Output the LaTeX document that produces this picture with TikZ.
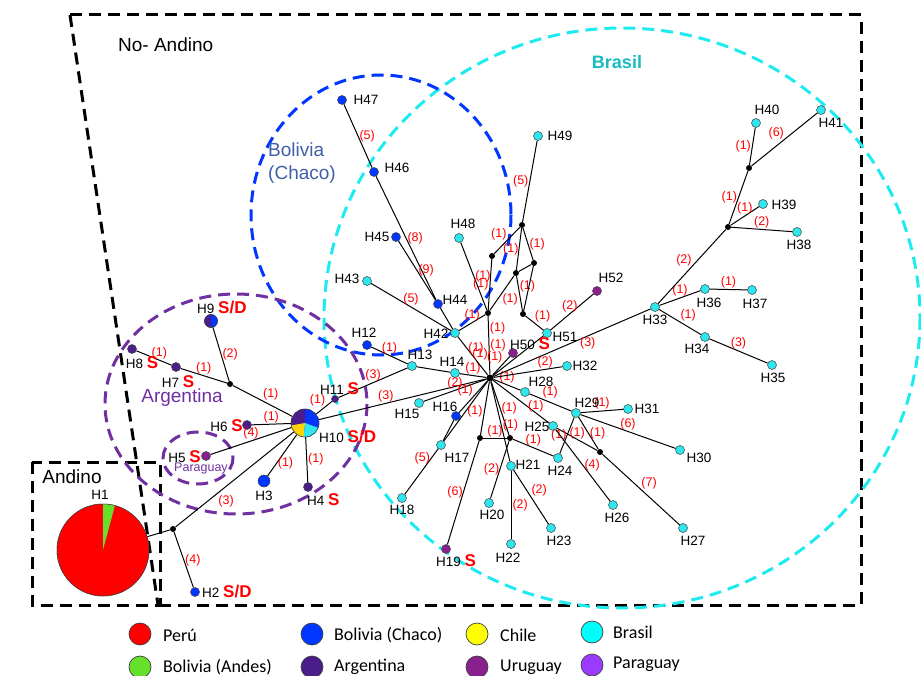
\documentclass[tikz,border=0pt]{standalone}
\usepackage{fontspec}
\setmainfont{Liberation Sans}
\newfontfamily\legendfont{Carlito}
\newcommand{\smark}[1]{{\color{red}\bfseries\fontsize{17}{17}\selectfont #1}}

\tikzset{
	hap/.style={circle,draw=black!75,line width=.5pt,minimum size=9pt,inner sep=0pt},
	med/.style={circle,fill=black,minimum size=6pt,inner sep=0pt},
	hname/.style={font=\fontsize{13.5}{13.5}\selectfont,inner sep=0pt},
	mut/.style={text=red,font=\fontsize{12.5}{12.5}\selectfont,inner sep=1pt},
	link/.style={line width=1pt},
	zone/.style={line width=3pt,dash pattern=on 12pt off 7pt},
	region/.style={font=\fontsize{19}{23}\selectfont,inner sep=0pt},
	legdot/.style={circle,draw=black!75,line width=.7pt,minimum size=22pt,inner sep=0pt},
	legtext/.style={anchor=west,font=\legendfont\fontsize{18}{18}\selectfont,inner sep=0pt},
}

\begin{document}
\begin{tikzpicture}[x=1pt,y=-1pt]
		\definecolor{peru}{HTML}{FF0000}
		\definecolor{andes}{HTML}{66E02A}
		\definecolor{chaco}{HTML}{0036FF}
		\definecolor{chile}{HTML}{FFD200}
		\definecolor{legchile}{HTML}{FFFF00}
		\definecolor{brasil}{HTML}{2EE6EE}
		\definecolor{legbrasil}{HTML}{00FFFF}
		\definecolor{argen}{HTML}{4B1D8A}
		\definecolor{urug}{HTML}{8A1F8E}
		\definecolor{parag}{HTML}{9B3BFF}
		\definecolor{argring}{HTML}{7030A0}
		\definecolor{chacotxt}{HTML}{3F5FA8}
		\definecolor{brasring}{HTML}{1EEBF0}
		\useasboundingbox (0,0) rectangle (921,676);
		
		% zonas
		\draw[zone] (70,15) -- (861,15) -- (861,605) -- (160,605);
		\draw[zone] (70,15) -- (158,605);
		\draw[zone] (32,462) rectangle (160,605);
		\draw[zone,brasring] (622,318) ellipse[x radius=298,y radius=290];
		\draw[zone,chaco] (381,215) ellipse[x radius=130,y radius=140];
		\draw[zone,argring] (236,404) ellipse[x radius=131,y radius=110];
		\draw[zone,argring] (198,458) ellipse[x radius=35,y radius=26];
		
		% textos de zonas
		\node[region,anchor=west] (tnoand) at (118,45) {No- Andino};
		\node[region] (tand) at (72,477) {Andino};
		\node[region,text=argring] (targ) at (182,398) {Argentina};
		\node[region,text=argring,font=\fontsize{12.5}{12.5}\selectfont] (tpar) at (201,468) {Paraguay};
		\node[region,text=chacotxt,align=left] (tbol) at (302,163) {Bolivia\\(Chaco)};
		\node[region,text=brasring!80!black,font=\bfseries\fontsize{18}{18}\selectfont] (tbra) at (617,62) {Brasil};
		
		% haplotipos
		\node[hap,minimum size=92pt] (h1) at (103,550) {};
		\node[hap,fill=chaco] (h2) at (195,592) {};
		\node[hap,fill=chaco,minimum size=12pt] (h3) at (264,481) {};
		\node[hap,fill=argen] (h4) at (308,487) {};
		\node[hap,fill=urug] (h5) at (206,456) {};
		\node[hap,fill=argen] (h6) at (247,425) {};
		\node[hap,fill=argen] (h7) at (176,367) {};
		\node[hap,fill=argen] (h8) at (132,349) {};
		\node[hap,minimum size=13pt] (h9) at (211,321) {};
		\node[hap,minimum size=28pt] (h10) at (305,423) {};
		\node[hap,fill=argen,minimum size=7pt] (h11) at (335,399) {};
		\node[hap,fill=chaco] (h12) at (367,345) {};
		\node[hap,fill=brasil] (h13) at (412,366) {};
		\node[hap,fill=brasil] (h14) at (455,373) {};
		\node[hap,fill=brasil] (h15) at (419,403) {};
		\node[hap,fill=chaco] (h16) at (456,416) {};
		\node[hap,fill=brasil] (h17) at (441,445) {};
		\node[hap,fill=brasil] (h18) at (402,498) {};
		\node[hap,fill=urug] (h19) at (446,549) {};
		\node[hap,fill=brasil] (h20) at (489,503) {};
		\node[hap,fill=brasil] (h21) at (511,466) {};
		\node[hap,fill=brasil] (h22) at (511,544) {};
		\node[hap,fill=brasil] (h23) at (551,528) {};
		\node[hap,fill=brasil] (h24) at (558,458) {};
		\node[hap,fill=brasil] (h25) at (553,426) {};
		\node[hap,fill=brasil] (h26) at (613,505) {};
		\node[hap,fill=brasil] (h27) at (683,528) {};
		\node[hap,fill=brasil] (h28) at (525,392) {};
		\node[hap,fill=brasil] (h29) at (576,413) {};
		\node[hap,fill=brasil] (h30) at (680,450) {};
		\node[hap,fill=brasil] (h31) at (628,409) {};
		\node[hap,fill=brasil] (h32) at (567,366) {};
		\node[hap,fill=brasil] (h33) at (655,307) {};
		\node[hap,fill=brasil] (h34) at (705,337) {};
		\node[hap,fill=brasil] (h35) at (772,365) {};
		\node[hap,fill=brasil] (h36) at (705,289) {};
		\node[hap,fill=brasil] (h37) at (752,290) {};
		\node[hap,fill=brasil] (h38) at (797,232) {};
		\node[hap,fill=brasil] (h39) at (763,204) {};
		\node[hap,fill=brasil] (h40) at (756,123) {};
		\node[hap,fill=brasil] (h41) at (821,110) {};
		\node[hap,fill=brasil] (h42) at (455,333) {};
		\node[hap,fill=brasil] (h43) at (367,281) {};
		\node[hap,fill=chaco] (h44) at (438,304) {};
		\node[hap,fill=chaco] (h45) at (396,237) {};
		\node[hap,fill=chaco] (h46) at (374,172) {};
		\node[hap,fill=chaco] (h47) at (342,100) {};
		\node[hap,fill=brasil] (h48) at (459,238) {};
		\node[hap,fill=brasil] (h49) at (538,136) {};
		\node[hap,fill=urug] (h50) at (513,353) {};
		\node[hap,fill=brasil] (h51) at (547,333) {};
		\node[hap,fill=urug] (h52) at (597,291) {};
		
		% vectores medios
		\node[med] (m0) at (173,529) {};
		\node[med] (m1) at (230,384) {};
		\node[med,minimum size=7pt] (hub) at (490,378) {};
		\node[med] (mA) at (492,256) {};
		\node[med] (mB) at (522,225) {};
		\node[med] (mC) at (516,273) {};
		\node[med] (mD) at (534,263) {};
		\node[med] (mE) at (488,313) {};
		\node[med] (mF) at (523,314) {};
		\node[med] (mG) at (480,438) {};
		\node[med] (mH) at (510,438) {};
		\node[med] (mI) at (600,452) {};
		\node[med] (mJ) at (728,227) {};
		\node[med] (mK) at (749,168) {};
		
		% Andino / Argentina
		\draw[link] (h1) -- (m0);
		\draw[link] (m0) -- node[mut,right]{(4)} (h2);
		\draw[link] (m0) -- node[mut,pos=.35,below right]{(3)} (h10);
		\draw[link] (h10) -- node[mut,pos=.7,right]{(1)} (h3);
		\draw[link] (h10) -- node[mut,right]{(1)} (h4);
		\draw[link] (h10) -- node[mut,above]{(4)} (h5);
		\draw[link] (h10) -- node[mut,above]{(1)} (h6);
		\draw[link] (h10) -- node[mut,above right,inner sep=0pt]{(1)} (m1);
		\draw[link] (m1) -- node[mut,right]{(2)} (h9);
		\draw[link] (m1) -- node[mut,above]{(1)} (h7);
		\draw[link] (h7) -- node[mut,pos=.35,above]{(1)} (h8);
		\draw[link] (h10) -- node[mut,pos=.6,above left,inner sep=0pt]{(1)} (h11);
		\draw[link] (h11) -- node[mut,above]{(3)} (h13);
		\draw[link] (h10) -- node[mut,pos=.4,above]{(3)} (hub);
		
		% centro
		\draw[link] (h12) -- node[mut,above]{(1)} (h13);
		\draw[link] (h13) -- (h14);
		\draw[link] (h14) -- node[mut,above]{(1)} (hub);
		\draw[link] (h15) -- node[mut,above]{(2)} (hub);
		\draw[link] (h16) -- node[mut,above left,inner sep=0pt]{(1)} (hub);
		\draw[link] (h17) -- node[mut,right]{(1)} (hub);
		\draw[link] (h16) -- (h17);
		\draw[link] (h17) -- node[mut,pos=.2,left]{(5)} (h18);
		\draw[link] (hub) -- (mG);
		\draw[link] (hub) -- node[mut,right]{(1)} (mH);
		\draw[link] (hub) -- node[mut,pos=.55,right]{(1)} (h21);
		\draw[link] (mG) -- node[mut,above,inner sep=0pt]{(1)} (mH);
		\draw[link] (mG) -- node[mut,left,inner sep=0pt]{(6)} (h19);
		\draw[link] (mH) -- node[mut,left,inner sep=0pt]{(2)} (h20);
		\draw[link] (mH) -- node[mut,above]{(1)} (h24);
		\draw[link] (h21) -- node[mut,right]{(2)} (h22);
		\draw[link] (h21) -- node[mut,above right,inner sep=0pt]{(2)} (h23);
		\draw[link] (hub) -- node[mut,pos=.6,right]{(1)} (h25);
		\draw[link] (hub) -- node[mut,above]{(1)} (h28);
		\draw[link] (h28) -- node[mut,pos=.3,above right,inner sep=0pt]{(1)} (h29);
		\draw[link] (h29) -- node[mut,above]{(1)} (h31);
		\draw[link] (h29) -- node[mut,above]{(6)} (h30);
		\draw[link] (h29) -- node[mut,right]{(1)} (mI);
		\draw[link] (h25) -- node[mut,above,inner sep=0pt]{(1)} (mI);
		\draw[link] (h24) -- node[mut,left,inner sep=0pt]{(1)} (h29);
		\draw[link] (h25) -- node[mut,right]{(4)} (h26);
		\draw[link] (mI) -- node[mut,above right,inner sep=0pt]{(7)} (h27);
		\draw[link] (hub) -- node[mut,pos=.75,above]{(2)} (h32);
		
		% Brasil (derecha)
		\draw[link] (hub) -- node[mut,pos=.6,below]{(3)} (h33);
		\draw[link] (h33) -- node[mut,above]{(1)} (h36);
		\draw[link] (h36) -- node[mut,above]{(1)} (h37);
		\draw[link] (h33) -- node[mut,above right,inner sep=0pt]{(1)} (h34);
		\draw[link] (h34) -- node[mut,above]{(3)} (h35);
		\draw[link] (h33) -- node[mut,above left,inner sep=0pt]{(2)} (mJ);
		\draw[link] (mJ) -- node[mut,above]{(1)} (h39);
		\draw[link] (mJ) -- node[mut,above]{(2)} (h38);
		\draw[link] (mJ) -- node[mut,left]{(1)} (mK);
		\draw[link] (mK) -- node[mut,left]{(1)} (h40);
		\draw[link] (mK) -- node[mut,above left,inner sep=0pt]{(6)} (h41);
		
		% Bolivia (Chaco) y red superior
		\draw[link] (h47) -- node[mut,right]{(5)} (h46);
		\draw[link] (h46) -- node[mut,pos=.5,right]{(8)} (h44);
		\draw[link] (h45) -- node[mut,right]{(9)} (h44);
		\draw[link] (h44) -- (h42);
		\draw[link] (h43) -- node[mut,above]{(5)} (h42);
		\draw[link] (h42) -- node[mut,pos=.3,right]{(1)} (hub);
		\draw[link] (h42) -- node[mut,above]{(1)} (mE);
		\draw[link] (mE) -- node[mut,pos=.2,right]{(1)} node[mut,pos=.5,right]{(1)} node[mut,pos=.65,left]{(1)} (hub);
		\draw[link] (hub) -- node[mut,pos=.6,above left,inner sep=0pt]{(1)} (h50);
		\draw[link] (hub) -- (h51);
		\draw[link] (mF) -- node[mut,above right,inner sep=0pt]{(1)} (h51);
		\draw[link] (h51) -- node[mut,pos=.45,above]{(2)} (h52);
		\draw[link] (h48) -- node[mut,right]{(1)} (mE);
		\draw[link] (mE) -- node[mut,left]{(1)} (mA);
		\draw[link] (mA) -- node[mut,above left,inner sep=0pt]{(1)} (mB);
		\draw[link] (mB) -- node[mut,left,inner sep=0pt]{(1)} (mC);
		\draw[link] (mB) -- node[mut,right]{(1)} (mD);
		\draw[link] (mC) -- (mD);
		\draw[link] (mC) -- node[mut,pos=.3,right]{(1)} (mF);
		\draw[link] (mD) -- (mF);
		\draw[link] (mE) -- node[mut,below right,inner sep=0pt]{(1)} (mC);
		\draw[link] (mB) -- node[mut,left]{(5)} (h49);
		
		% tortas
		\fill[peru] (h1) circle[radius=46];
		\fill[andes] (h1.center) -- ++(-75:46) arc[start angle=-75,end angle=-90,radius=46] -- cycle;
		\draw[black!75,line width=.5pt] (h1) circle[radius=46];
		\fill[chaco] (h9) circle[radius=6.5];
		\fill[argen] (h9.center) -- ++(-90:6.5) arc[start angle=-90,end angle=-270,radius=6.5] -- cycle;
		\draw[black!75,line width=.5pt] (h9) circle[radius=6.5];
		\fill[chaco] (h10) circle[radius=14];
		\fill[argen] (h10.center) -- ++(-90:14) arc[start angle=-90,end angle=-190,radius=14] -- cycle;
		\fill[chile] (h10.center) -- ++(-190:14) arc[start angle=-190,end angle=-265,radius=14] -- cycle;
		\fill[brasil] (h10.center) -- ++(-265:14) arc[start angle=-265,end angle=-340,radius=14] -- cycle;
		\draw[black!75,line width=.5pt] (h10) circle[radius=14];
		
		% nombres
		\node[hname] (t1) at (100,495) {H1};
		\node[hname,anchor=west] (t2) at (202,592) {H2 \smark{S/D}};
		\node[hname] (t3) at (264,496) {H3};
		\node[hname,anchor=west] (t4) at (307,500) {H4 \smark{S}};
		\node[hname,anchor=east] (t5) at (201,457) {H5 \smark{S}};
		\node[hname,anchor=east] (t6) at (243,426) {H6 \smark{S}};
		\node[hname] (t7) at (178,382) {H7 \smark{S}};
		\node[hname] (t8) at (142,363) {H8 \smark{S}};
		\node[hname,anchor=west] (t9) at (197,308) {H9 \smark{S/D}};
		\node[hname,anchor=west] (t10) at (319,437) {H10 \smark{S/D}};
		\node[hname,anchor=west] (t11) at (320,389) {H11 \smark{S}};
		\node[hname] (t12) at (364,333) {H12};
		\node[hname] (t13) at (420,355) {H13};
		\node[hname] (t14) at (452,362) {H14};
		\node[hname] (t15) at (407,414) {H15};
		\node[hname] (t16) at (445,407) {H16};
		\node[hname] (t17) at (457,458) {H17};
		\node[hname] (t18) at (402,510) {H18};
		\node[hname,anchor=west] (t19) at (436,561) {H19 \smark{S}};
		\node[hname] (t20) at (492,515) {H20};
		\node[hname] (t21) at (528,465) {H21};
		\node[hname] (t22) at (508,558) {H22};
		\node[hname] (t23) at (559,541) {H23};
		\node[hname] (t24) at (560,471) {H24};
		\node[hname] (t25) at (537,427) {H25};
		\node[hname] (t26) at (617,518) {H26};
		\node[hname] (t27) at (693,541) {H27};
		\node[hname] (t28) at (541,382) {H28};
		\node[hname] (t29) at (587,403) {H29};
		\node[hname] (t30) at (699,458) {H30};
		\node[hname] (t31) at (647,409) {H31};
		\node[hname] (t32) at (585,366) {H32};
		\node[hname] (t33) at (655,320) {H33};
		\node[hname] (t34) at (697,349) {H34};
		\node[hname] (t35) at (773,378) {H35};
		\node[hname] (t36) at (709,303) {H36};
		\node[hname] (t37) at (755,304) {H37};
		\node[hname] (t38) at (799,245) {H38};
		\node[hname] (t39) at (784,205) {H39};
		\node[hname] (t40) at (767,110) {H40};
		\node[hname] (t41) at (831,123) {H41};
		\node[hname] (t42) at (436,334) {H42};
		\node[hname] (t43) at (347,279) {H43};
		\node[hname] (t44) at (455,300) {H44};
		\node[hname] (t45) at (377,237) {H45};
		\node[hname] (t46) at (397,168) {H46};
		\node[hname] (t47) at (366,100) {H47};
		\node[hname] (t48) at (463,224) {H48};
		\node[hname] (t49) at (560,136) {H49};
		\node[hname,anchor=west] (t50) at (510,344) {H50 \smark{S}};
		\node[hname] (t51) at (565,337) {H51};
		\node[hname] (t52) at (611,278) {H52};
		
		% leyenda
		\node[legdot,fill=peru] (l1) at (140,634) {};
		\node[legtext] (l1t) at (163,635) {Perú};
		\node[legdot,fill=andes] (l2) at (140,667) {};
		\node[legtext] (l2t) at (163,667) {Bolivia (Andes)};
		\node[legdot,fill=chaco] (l3) at (312,634) {};
		\node[legtext] (l3t) at (334,635) {Bolivia (Chaco)};
		\node[legdot,fill=argen] (l4) at (312,667) {};
		\node[legtext] (l4t) at (334,667) {Argentina};
		\node[legdot,fill=legchile] (l5) at (477,634) {};
		\node[legtext] (l5t) at (500,635) {Chile};
		\node[legdot,fill=urug] (l6) at (477,667) {};
		\node[legtext] (l6t) at (500,667) {Uruguay};
		\node[legdot,fill=legbrasil] (l7) at (592,632) {};
		\node[legtext] (l7t) at (613,632) {Brasil};
		\node[legdot,fill=parag] (l8) at (592,665) {};
		\node[legtext] (l8t) at (613,664) {Paraguay};
		
\end{tikzpicture}
\end{document}
